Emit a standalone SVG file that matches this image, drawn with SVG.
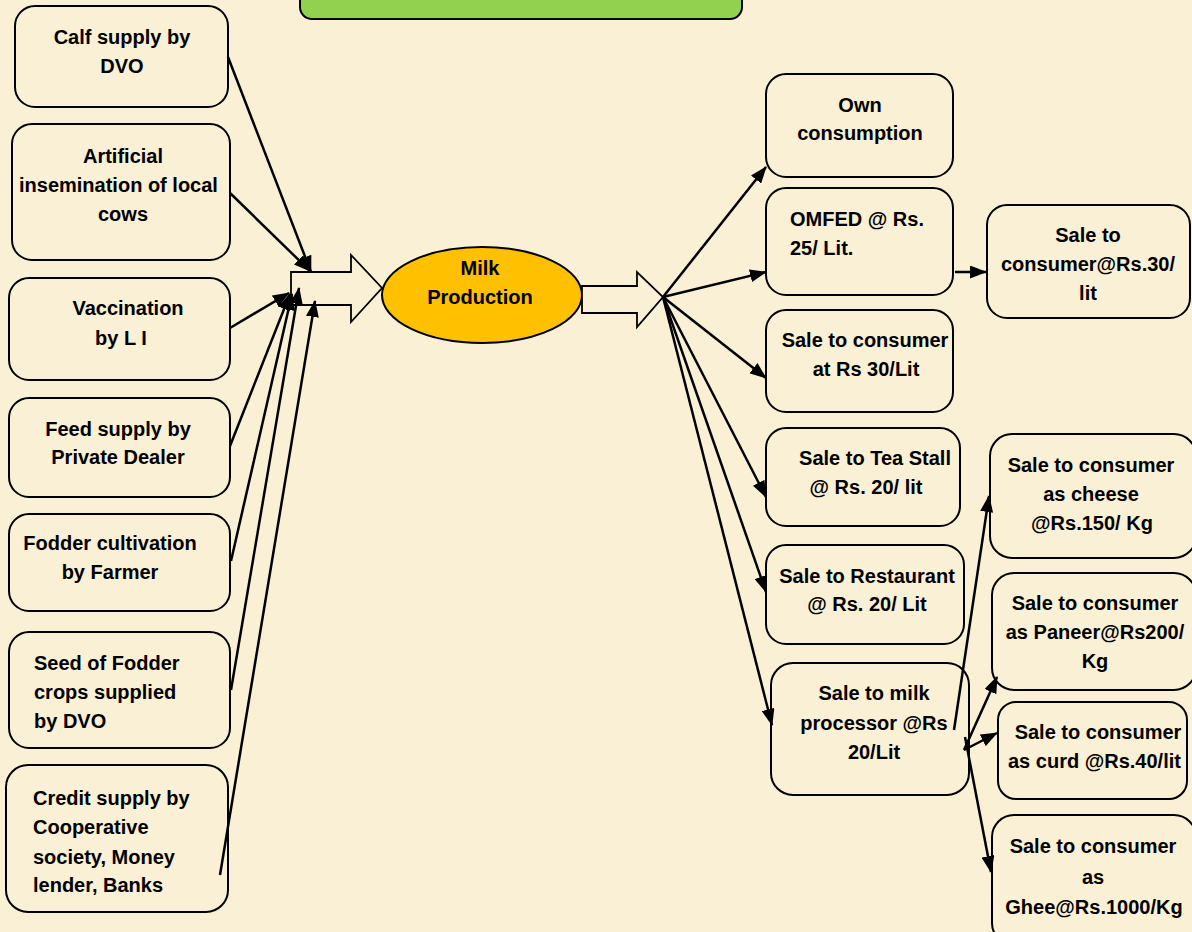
<svg xmlns="http://www.w3.org/2000/svg" width="1192" height="932" viewBox="0 0 1192 932">
<defs>
<style>
.box{fill:#FAF0D5;stroke:#000;stroke-width:2}
.t{font-family:"Liberation Sans",Arial,sans-serif;font-weight:bold;font-size:20px;fill:#000}
.m{text-anchor:middle}
.c{stroke:#000;stroke-width:2.5;fill:none;marker-end:url(#ah)}
.blk{fill:#FAF0D5;stroke:#000;stroke-width:1.8}
</style>
<marker id="ah" markerUnits="userSpaceOnUse" markerWidth="17" markerHeight="13" refX="16" refY="6.5" orient="auto">
<path d="M0,0 L17,6.5 L0,13 z" fill="#000"/>
</marker>
<clipPath id="clipAI"><rect x="12" y="124" width="218" height="136" rx="20"/></clipPath>
<clipPath id="clipCurd"><rect x="998" y="702" width="189" height="97" rx="18"/></clipPath>
</defs>
<rect x="0" y="0" width="1192" height="932" fill="#FAF0D5"/>

<g id="title"><rect x="300" y="-20" width="442" height="39" rx="12" fill="#92D050" stroke="#000" stroke-width="2"/></g>

<g id="calf"><rect class="box" x="15" y="6" width="213" height="101" rx="20"/>
<text class="t m" x="122" y="44">Calf supply by</text><text class="t m" x="122" y="73">DVO</text></g>

<g id="ai"><rect class="box" x="12" y="124" width="218" height="136" rx="20"/>
<g clip-path="url(#clipAI)"><text class="t m" x="123" y="163">Artificial</text><text class="t" x="19" y="192">insemination of local</text><text class="t m" x="123" y="221">cows</text></g></g>

<g id="vacc"><rect class="box" x="9" y="278" width="221" height="102" rx="20"/>
<text class="t m" x="128" y="315">Vaccination</text><text class="t m" x="121" y="345">by L I</text></g>

<g id="feed"><rect class="box" x="9" y="398" width="221" height="99" rx="20"/>
<text class="t m" x="118" y="436">Feed supply by</text><text class="t m" x="118" y="464">Private Dealer</text></g>

<g id="fodder"><rect class="box" x="9" y="514" width="221" height="97" rx="20"/>
<text class="t m" x="110" y="550">Fodder cultivation</text><text class="t m" x="110" y="579">by Farmer</text></g>

<g id="seed"><rect class="box" x="9" y="632" width="221" height="116" rx="20"/>
<text class="t" x="34" y="670">Seed of Fodder</text><text class="t" x="34" y="699">crops supplied</text><text class="t" x="34" y="728">by DVO</text></g>

<g id="credit"><rect class="box" x="6" y="765" width="222" height="147" rx="22"/>
<text class="t" x="33" y="805">Credit supply by</text><text class="t" x="33" y="834">Cooperative</text><text class="t" x="33" y="864">society, Money</text><text class="t" x="33" y="892">lender, Banks</text></g>

<g id="inArrow"><polygon class="blk" points="291,272 351,272 351,255 382,288 351,322 351,305 291,305"/></g>

<g id="milk"><ellipse cx="482" cy="295" rx="100" ry="48" fill="#FFC000" stroke="#000" stroke-width="2"/>
<text class="t m" x="480" y="275">Milk</text><text class="t m" x="480" y="304">Production</text></g>

<g id="outArrow"><polygon class="blk" points="582,286 637,286 637,272 663,297 637,327 637,313 582,313"/></g>

<g id="own"><rect class="box" x="766" y="74" width="187" height="103" rx="20"/>
<text class="t m" x="860" y="112">Own</text><text class="t m" x="860" y="140">consumption</text></g>

<g id="omfed"><rect class="box" x="766" y="188" width="187" height="107" rx="20"/>
<text class="t" x="790" y="226">OMFED @ Rs.</text><text class="t" x="790" y="255">25/ Lit.</text></g>

<g id="sale30b"><rect class="box" x="987" y="205" width="203" height="113" rx="20"/>
<text class="t m" x="1088" y="242">Sale to</text><text class="t m" x="1088" y="271">consumer@Rs.30/</text><text class="t m" x="1088" y="300">lit</text></g>

<g id="sale30"><rect class="box" x="766" y="310" width="187" height="102" rx="20"/>
<text class="t m" x="865" y="347">Sale to consumer</text><text class="t m" x="866" y="376">at Rs 30/Lit</text></g>

<g id="tea"><rect class="box" x="766" y="428" width="194" height="98" rx="20"/>
<text class="t m" x="875" y="465">Sale to Tea Stall</text><text class="t m" x="866" y="494">@ Rs. 20/ lit</text></g>

<g id="rest"><rect class="box" x="766" y="545" width="198" height="99" rx="20"/>
<text class="t m" x="867" y="583">Sale to Restaurant</text><text class="t m" x="867" y="611">@ Rs. 20/ Lit</text></g>

<g id="proc"><rect class="box" x="771" y="663" width="198" height="132" rx="22"/>
<text class="t m" x="874" y="700">Sale to milk</text><text class="t m" x="874" y="730">processor @Rs</text><text class="t m" x="874" y="759">20/Lit</text></g>

<g id="cheese"><rect class="box" x="990" y="434" width="206" height="124" rx="22"/>
<text class="t m" x="1091" y="472">Sale to consumer</text><text class="t m" x="1091" y="501">as cheese</text><text class="t m" x="1092" y="530">@Rs.150/ Kg</text></g>

<g id="paneer"><rect class="box" x="992" y="573" width="204" height="117" rx="22"/>
<text class="t m" x="1095" y="610">Sale to consumer</text><text class="t m" x="1095" y="639">as Paneer@Rs200/</text><text class="t m" x="1095" y="668">Kg</text></g>

<g id="curd"><rect class="box" x="998" y="702" width="189" height="97" rx="18"/>
<g clip-path="url(#clipCurd)"><text class="t m" x="1098" y="739">Sale to consumer</text><text class="t" x="1008" y="768">as curd @Rs.40/lit</text></g></g>

<g id="ghee"><rect class="box" x="992" y="815" width="204" height="130" rx="22"/>
<text class="t m" x="1093" y="853">Sale to consumer</text><text class="t m" x="1093" y="884">as</text><text class="t m" x="1094" y="914">Ghee@Rs.1000/Kg</text></g>

<g id="connectors">
<line class="c" x1="228" y1="57" x2="311" y2="272"/>
<line class="c" x1="230" y1="193" x2="310" y2="271"/>
<line class="c" x1="230" y1="328" x2="289" y2="293"/>
<line class="c" x1="230" y1="446" x2="290" y2="294"/>
<line class="c" x1="231" y1="561" x2="292" y2="294"/>
<line class="c" x1="231" y1="690" x2="299" y2="288"/>
<line class="c" x1="220" y1="875" x2="315" y2="301"/>
<line class="c" x1="663" y1="297" x2="766" y2="167"/>
<line class="c" x1="663" y1="297" x2="766" y2="272"/>
<line class="c" x1="663" y1="297" x2="766" y2="378"/>
<line class="c" x1="663" y1="297" x2="766" y2="497"/>
<line class="c" x1="663" y1="297" x2="766" y2="592"/>
<line class="c" x1="663" y1="297" x2="772" y2="725"/>
<line class="c" x1="955" y1="272" x2="986" y2="272"/>
<line class="c" x1="954" y1="730" x2="989" y2="496"/>
<line class="c" x1="964" y1="750" x2="997" y2="677"/>
<line class="c" x1="964" y1="750" x2="997" y2="733"/>
<line class="c" x1="965" y1="737" x2="991" y2="872"/>
</g>
</svg>
